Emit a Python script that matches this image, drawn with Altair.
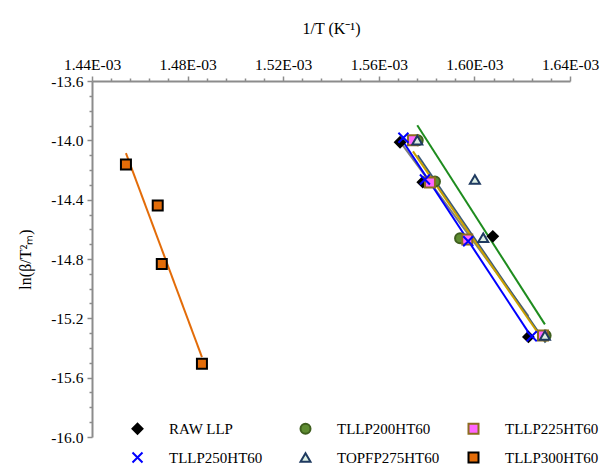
import altair as alt
import pandas as pd

series = ["RAW LLP", "TLLP200HT60", "TLLP225HT60", "TLLP250HT60", "TOPFP275HT60", "TLLP300HT60"]

raw_x = [1.5689e-3, 1.5784e-3, 1.6077e-3, 1.6226e-3]
raw_y = [-14.013, -14.282, -14.647, -15.325]
t200_x = [1.5763e-3, 1.5835e-3, 1.5940e-3, 1.6298e-3]
t200_y = [-13.999, -14.278, -14.660, -15.316]
t225_x = [1.5743e-3, 1.5814e-3, 1.5970e-3, 1.6287e-3]
t225_y = [-14.000, -14.285, -14.669, -15.316]
t250_x = [1.5703e-3, 1.5793e-3, 1.5974e-3, 1.6240e-3]
t250_y = [-13.983, -14.264, -14.680, -15.321]
t275_x = [1.5761e-3, 1.6002e-3, 1.6037e-3, 1.6295e-3]
t275_y = [-13.999, -14.264, -14.657, -15.316]
t300_x = [1.4542e-3, 1.4675e-3, 1.4692e-3, 1.4860e-3]
t300_y = [-14.163, -14.440, -14.833, -15.507]

xs = [raw_x, t200_x, t225_x, t250_x, t275_x, t300_x]
ys = [raw_y, t200_y, t225_y, t250_y, t275_y, t300_y]

fills = ["#000000", "#5E8C31", "#FF66FF", "#0000FF", "#DDEFE3", "#E36C09"]
strokes = ["#000000", "#3F5F1E", "#8C6D1F", "#0000FF", "#1F3A60", "#000000"]
shapes = ["diamond", "circle", "square", "M-1,-1L1,1M-1,1L1,-1", "triangle-up", "square"]
line_colors = ["#7F7F7F", "#3A5A78", "#C9A000", "#0000FF", "#1E8C1E", "#E36C09"]

x_major = [1.44e-3, 1.48e-3, 1.52e-3, 1.56e-3, 1.60e-3, 1.64e-3]
y_major = [-13.6, -14.0, -14.4, -14.8, -15.2, -15.6, -16.0]
x_ticks = [round(1.44e-3 + i * 0.008e-3, 7) for i in range(26)]
y_ticks = [round(-13.6 - i * 0.1, 2) for i in range(25)]

rows = []
for s, xv, yv in zip(series, xs, ys):
    for a, b in zip(xv, yv):
        rows.append({"series": s, "x": a, "y": b})
df = pd.DataFrame(rows)

font = "Liberation Serif"
axis_gray = "#8C8C8C"

x_major_test = "abs(datum.value*25000 - round(datum.value*25000)) < 0.01"
y_major_test = "abs(datum.value*2.5 - round(datum.value*2.5)) < 0.01"

x_axis = alt.Axis(
    orient="top",
    values=x_ticks,
    labelExpr=f"{x_major_test} ? format(datum.value*1000, '.2f') + 'E-03' : ''",
    tickSize={"condition": {"test": x_major_test, "value": 5}, "value": 3},
    title="1/T (K⁻¹)",
    titlePadding=21,
    labelPadding=4,
    labelFlush=False,
    labelOverlap=False,
    grid=False,
)
y_axis = alt.Axis(
    orient="left",
    values=y_ticks,
    labelExpr=f"{y_major_test} ? '-' + format(-datum.value, '.1f') : ''",
    tickSize={"condition": {"test": y_major_test, "value": 5}, "value": 3},
    title="ln(β/T²ₘ)",
    titlePadding=17,
    labelPadding=4,
    labelFlush=False,
    labelOverlap=False,
    grid=False,
)

xenc = alt.X("x:Q", scale=alt.Scale(domain=[1.44e-3, 1.64e-3], nice=False, zero=False), axis=x_axis)
yenc = alt.Y("y:Q", scale=alt.Scale(domain=[-16.0, -13.6], nice=False, zero=False), axis=y_axis)

base = alt.Chart(df)

lines = []
for s, c in zip(series, line_colors):
    lines.append(
        base.transform_filter(alt.datum.series == s)
        .transform_regression("x", "y")
        .mark_line(color=c, strokeWidth=2, clip=True)
        .encode(x=xenc, y=yenc)
    )

legend = alt.Legend(
    title=None,
    orient="none",
    legendX=38,
    legendY=340,
    direction="horizontal",
    columns=3,
    gridAlign="all",
    columnPadding=24,
    rowPadding=10,
    labelFont=font,
    labelFontSize=15,
    labelColor="#000000",
    labelOffset=24,
    symbolSize=100,
    symbolStrokeWidth=2,
    labelLimit=200,
)

points = base.mark_point(size=100, strokeWidth=2, opacity=1, filled=False).encode(
    x=xenc,
    y=yenc,
    fill=alt.Fill("series:N", scale=alt.Scale(domain=series, range=fills), legend=legend, sort=series),
    stroke=alt.Stroke("series:N", scale=alt.Scale(domain=series, range=strokes), legend=legend, sort=series),
    shape=alt.Shape("series:N", scale=alt.Scale(domain=series, range=shapes), legend=legend, sort=series),
    order=alt.Order("idx:Q"),
).transform_calculate(idx=f"indexof({series!r}, datum.series)")

chart = (
    alt.layer(*lines, points)
    .properties(
        width=478,
        height=356,
        autosize=alt.AutoSizeParams(type="none"),
        padding={"left": 84, "top": 73, "right": 31, "bottom": 30},
        background="white",
    )
    .configure_view(stroke=None)
    .configure_axis(
        labelFont=font,
        labelFontSize=15.5,
        labelColor="#000000",
        titleFont=font,
        titleFontSize=16,
        titleFontWeight="normal",
        titleColor="#000000",
        domainColor=axis_gray,
        domainWidth=2,
        tickColor=axis_gray,
        tickWidth=1.5,
    )
)

chart.save("out.html", embed_options={"renderer": "svg", "actions": False})
